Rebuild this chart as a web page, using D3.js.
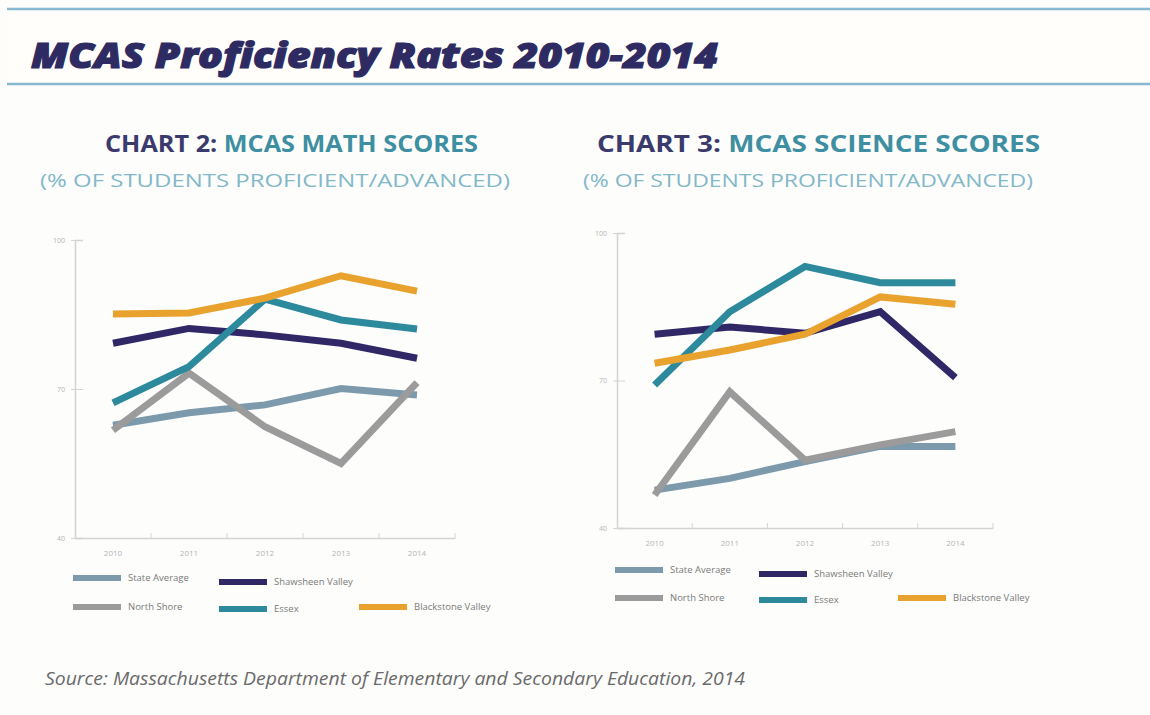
<!DOCTYPE html>
<html>
<head>
<meta charset="utf-8">
<script src="https://cdn.jsdelivr.net/npm/d3@7"></script>
<style>
  body { margin: 0; background: #fdfdfc; }
  svg { display: block; }
</style>
</head>
<body>
<script>
// data
var years = ["2010", "2011", "2012", "2013", "2014"];
var yTicks = [40, 70, 100];
var seriesNames = ["State Average", "Shawsheen Valley", "North Shore", "Essex", "Blackstone Valley"];
var seriesColors = ["#7d9aad", "#2f2766", "#9b9b9b", "#2d8a9c", "#e9a22e"];

var mathState = [62.7, 65.2, 66.8, 70.1, 68.8];
var mathShawsheen = [79.2, 82.2, 80.9, 79.2, 76.2];
var mathNorthShore = [61.7, 73.2, 62.4, 55.0, 71.3];
var mathEssex = [67.2, 74.5, 88.1, 83.9, 82.1];
var mathBlackstone = [85.1, 85.3, 88.3, 92.8, 89.7];

var sciState = [47.7, 50.1, 53.5, 56.6, 56.6];
var sciShawsheen = [79.4, 80.9, 79.6, 84.0, 70.6];
var sciNorthShore = [46.7, 67.7, 53.8, 56.9, 59.6];
var sciEssex = [69.1, 84.0, 93.2, 89.9, 89.9];
var sciBlackstone = [73.5, 76.2, 79.4, 87.0, 85.5];

var width = 1150, height = 715;

var svg = d3.select("body").append("svg")
    .attr("width", width)
    .attr("height", height);

svg.append("rect").attr("width", width).attr("height", height).attr("fill", "#fdfdfc");

// header band
svg.append("rect").attr("x", 7).attr("y", 9).attr("width", width - 7).attr("height", 75).attr("fill", "#fffefa");
svg.append("line").attr("x1", 7).attr("x2", width).attr("y1", 9).attr("y2", 9)
    .attr("stroke", "#86b9cf").attr("stroke-width", 2.5);
svg.append("line").attr("x1", 7).attr("x2", width).attr("y1", 84).attr("y2", 84)
    .attr("stroke", "#86b9cf").attr("stroke-width", 2.5);

svg.append("text")
    .attr("x", 31).attr("y", 68)
    .attr("font-family", "Open Sans").attr("font-weight", 800).attr("font-style", "italic")
    .attr("font-size", 36).attr("fill", "#2e2b63")
    .attr("stroke", "#2e2b63").attr("stroke-width", 1.2)
    .attr("textLength", 687).attr("lengthAdjust", "spacingAndGlyphs")
    .text("MCAS Proficiency Rates 2010-2014");

svg.append("text")
    .attr("x", 45).attr("y", 685)
    .attr("font-family", "Open Sans").attr("font-style", "italic")
    .attr("font-size", 18).attr("fill", "#6a6a6a")
    .attr("textLength", 700).attr("lengthAdjust", "spacingAndGlyphs")
    .text("Source: Massachusetts Department of Elementary and Secondary Education, 2014");

function drawChart(opt) {
    var g = svg.append("g");

    var title = g.append("text")
        .attr("x", opt.titleX).attr("y", 152)
        .attr("font-family", "Open Sans").attr("font-weight", 700)
        .attr("font-size", 23)
        .attr("textLength", opt.titleW).attr("lengthAdjust", "spacingAndGlyphs");
    title.append("tspan").attr("fill", "#3b3a6c").text(opt.chartNo + " ");
    title.append("tspan").attr("fill", "#3e8fa1").text(opt.chartName);

    g.append("text")
        .attr("x", opt.subX).attr("y", 187)
        .attr("font-family", "Open Sans").attr("font-size", 19).attr("fill", "#82b8c8")
        .attr("textLength", opt.subW).attr("lengthAdjust", "spacingAndGlyphs")
        .text("(% OF STUDENTS PROFICIENT/ADVANCED)");

    var x = d3.scaleBand().domain(years).range([opt.x0, opt.x1]).paddingInner(0).paddingOuter(0);
    var y = d3.scaleLinear().domain([40, 100]).range([opt.yBot, opt.yTop]);

    // x axis: labels at band centres
    var xAxis = g.append("g")
        .attr("transform", "translate(0," + opt.yBot + ")")
        .call(d3.axisBottom(x).tickSize(0).tickPadding(12));
    xAxis.select(".domain").attr("stroke", "#d4d4d4").attr("stroke-width", 1.5);
    xAxis.selectAll("text").attr("font-family", "Open Sans").attr("font-size", 8).attr("fill", "#b5b5b5");

    // small ticks at band edges
    g.selectAll(".bt").data(years).enter().append("line")
        .attr("x1", function(d) { return x(d) + x.bandwidth(); })
        .attr("x2", function(d) { return x(d) + x.bandwidth(); })
        .attr("y1", opt.yBot).attr("y2", opt.yBot - 5)
        .attr("stroke", "#d4d4d4");

    var yAxis = g.append("g")
        .attr("transform", "translate(" + opt.x0 + ",0)")
        .call(d3.axisLeft(y).tickValues(yTicks).tickSize(-8).tickPadding(10));
    yAxis.select(".domain").attr("stroke", "#d4d4d4").attr("stroke-width", 1.5);
    yAxis.selectAll(".tick line").attr("stroke", "#d4d4d4").attr("x1", -4);
    yAxis.selectAll("text").attr("font-family", "Open Sans").attr("font-size", 7).attr("fill", "#b5b5b5");

    var line = d3.line()
        .x(function(d, i) { return x(years[i]) + x.bandwidth() / 2; })
        .y(function(d) { return y(d); });

    // draw order so overlaps look like the picture
    var order = [0, 2, 1, 3, 4];
    order.forEach(function(k) {
        g.append("path")
            .datum(opt.series[k])
            .attr("d", line)
            .attr("fill", "none")
            .attr("stroke", seriesColors[k])
            .attr("stroke-width", 7)
            .attr("stroke-linejoin", "miter");
    });

    // legend
    var lx = [opt.lx0, opt.lx1, opt.lx0, opt.lx1, opt.lx2];
    var ly = [opt.ly0, opt.ly0 + 4, opt.ly1, opt.ly1 + 2, opt.ly1];
    seriesNames.forEach(function(name, k) {
        g.append("rect")
            .attr("x", lx[k]).attr("y", ly[k] - 3)
            .attr("width", 48).attr("height", 6)
            .attr("fill", seriesColors[k]);
        g.append("text")
            .attr("x", lx[k] + 55).attr("y", ly[k] + 3)
            .attr("font-family", "Open Sans").attr("font-size", 9.5).attr("fill", "#7a7a7a")
            .text(name);
    });
}

drawChart({
    chartNo: "CHART 2:", chartName: "MCAS MATH SCORES",
    titleX: 105, titleW: 373, subX: 40, subW: 470,
    x0: 75, x1: 455, yTop: 240, yBot: 538,
    series: [mathState, mathShawsheen, mathNorthShore, mathEssex, mathBlackstone],
    lx0: 73, lx1: 219, lx2: 359, ly0: 578, ly1: 607
});

drawChart({
    chartNo: "CHART 3:", chartName: "MCAS SCIENCE SCORES",
    titleX: 597, titleW: 443, subX: 583, subW: 450,
    x0: 617, x1: 993, yTop: 233, yBot: 528,
    series: [sciState, sciShawsheen, sciNorthShore, sciEssex, sciBlackstone],
    lx0: 615, lx1: 759, lx2: 898, ly0: 570, ly1: 598
});
</script>
</body>
</html>
